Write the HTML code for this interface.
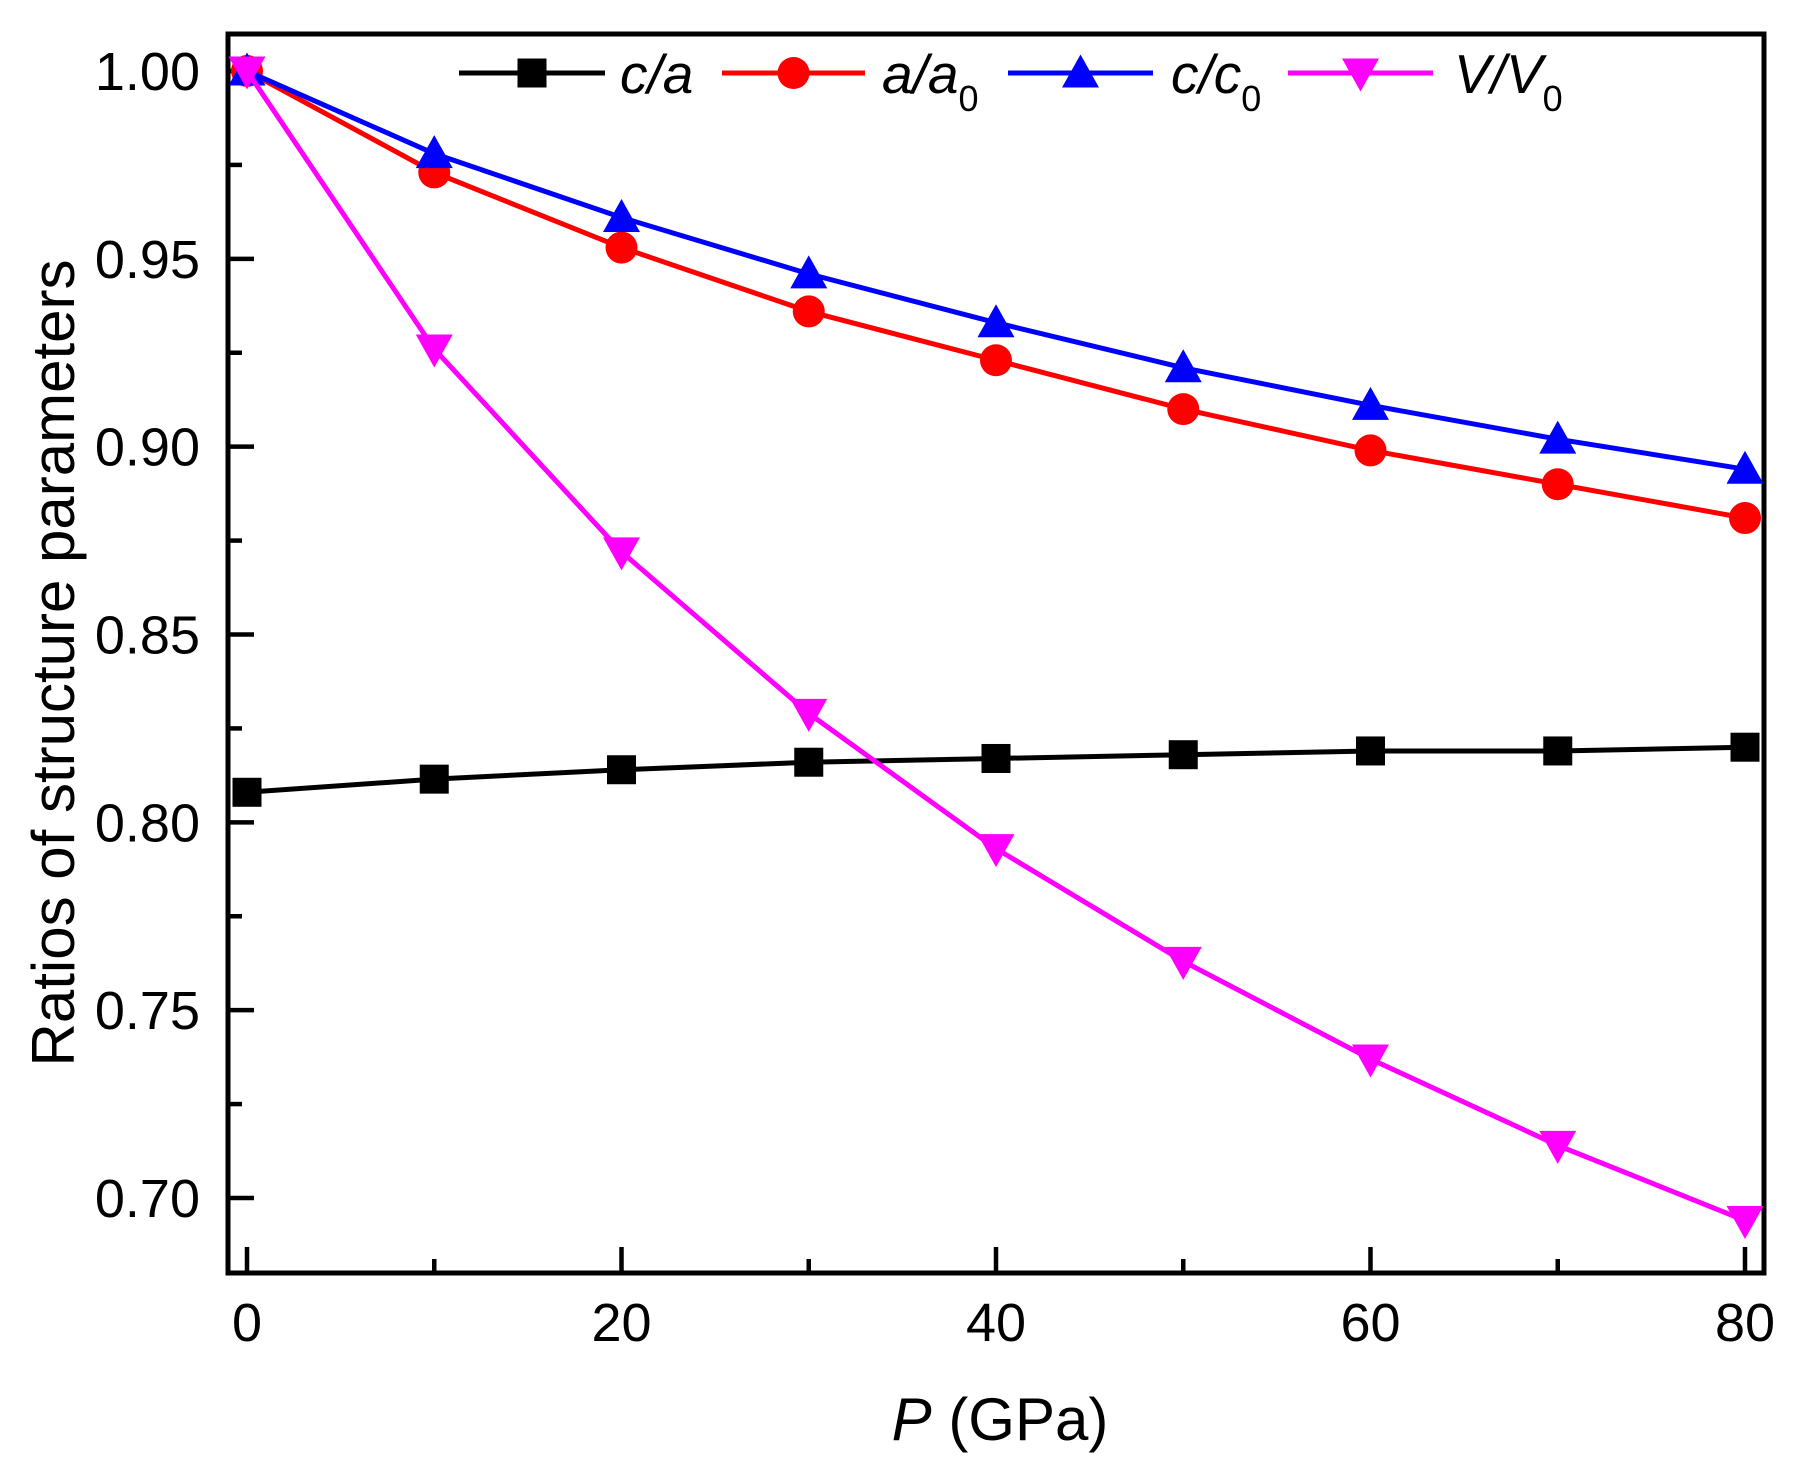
<!DOCTYPE html>
<html><head><meta charset="utf-8"><style>
html,body{margin:0;padding:0;background:#fff;}
svg{display:block;font-family:"Liberation Sans",Arial,sans-serif;}
</style></head><body>
<svg id="chart" width="1794" height="1470" viewBox="0 0 1794 1470">
<g id="plot"></g>
</svg>
<script>
const pressures=[0,10,20,30,40,50,60,70,80];
const caValues=[0.808,0.8115,0.814,0.816,0.817,0.818,0.819,0.819,0.820];
const aa0Values=[1.000,0.973,0.953,0.936,0.923,0.910,0.899,0.890,0.881];
const cc0Values=[1.000,0.978,0.961,0.946,0.933,0.921,0.911,0.902,0.894];
const vv0Values=[1.000,0.926,0.872,0.829,0.793,0.763,0.737,0.714,0.694];
const xTicks=[0,20,40,60,80];
const xMinor=[10,30,50,70];
const yTicks=[0.70,0.75,0.80,0.85,0.90,0.95,1.00];
const yMinor=[0.725,0.775,0.825,0.875,0.925,0.975];

const NS="http://www.w3.org/2000/svg";
const L=228,R=1764,T=34,B=1273;
function xs(v){return 247+(v-0)*(1745-247)/80;}
function ys(v){return 71+(1.0-v)*(1198-71)/0.30;}
const g=document.getElementById('plot');
function el(tag,attrs,parent){const e=document.createElementNS(NS,tag);for(const k in attrs)e.setAttribute(k,attrs[k]);(parent||g).appendChild(e);return e;}

const frame=el('rect',{x:L,y:T,width:R-L,height:B-T,fill:'none',stroke:'#000','stroke-width':5});



xTicks.forEach(v=>{
  const t=el('line',{x1:xs(v),x2:xs(v),y1:B,y2:B-26,stroke:'#000','stroke-width':4.5});
  
  
  const lb=el('text',{x:xs(v),y:1341,'font-size':54,'text-anchor':'middle'});
  lb.textContent=v;
  
  
});
xMinor.forEach(v=>{
  const t=el('line',{x1:xs(v),x2:xs(v),y1:B,y2:B-14,stroke:'#000','stroke-width':4.5});
  
  
});
yTicks.forEach(v=>{
  const t=el('line',{x1:L,x2:L+26,y1:ys(v),y2:ys(v),stroke:'#000','stroke-width':4.5});
  
  
  const lb=el('text',{x:200,y:ys(v)+19,'font-size':54,'text-anchor':'end'});
  lb.textContent=v.toFixed(2);
  
  
});
yMinor.forEach(v=>{
  const t=el('line',{x1:L,x2:L+14,y1:ys(v),y2:ys(v),stroke:'#000','stroke-width':4.5});
  
  
});

const xt=el('text',{x:1000,y:1440,'font-size':60,'text-anchor':'middle'});
xt.innerHTML='<tspan font-style="italic">P</tspan> (GPa)';


const yt=el('text',{x:0,y:0,'font-size':60,'text-anchor':'middle',transform:'translate(74,663) rotate(-90)'});
yt.textContent='Ratios of structure parameters';



function marker(kind,cx,cy,color,parent){
  const s=14.5;
  let m;
  if(kind==='square') m=el('rect',{x:cx-s,y:cy-s,width:2*s,height:2*s,fill:color},parent);
  else if(kind==='circle') m=el('circle',{cx:cx,cy:cy,r:s+1.5,fill:color},parent);
  else if(kind==='up') m=el('polygon',{points:`${cx},${cy-s-4} ${cx+s+4},${cy+s} ${cx-s-4},${cy+s}`,fill:color},parent);
  else m=el('polygon',{points:`${cx},${cy+s+4} ${cx+s+4},${cy-s} ${cx-s-4},${cy-s}`,fill:color},parent);
  return m;
}
const series=[
  {name:'c-over-a',vals:caValues,color:'#000',kind:'square'},
  {name:'a-over-a0',vals:aa0Values,color:'#ff0000',kind:'circle'},
  {name:'c-over-c0',vals:cc0Values,color:'#0000ff',kind:'up'},
  {name:'v-over-v0',vals:vv0Values,color:'#ff00ff',kind:'down'}
];
series.forEach(s=>{
  const grp=el('g',{});
  
  
  const pts=pressures.map((p,i)=>xs(p)+','+ys(s.vals[i])).join(' ');
  const pl=el('polyline',{points:pts,fill:'none',stroke:s.color,'stroke-width':5},grp);
  
  
  pressures.forEach((p,i)=>{
    const m=marker(s.kind,xs(p),ys(s.vals[i]),s.color,grp);
    
    
  });
});

const legend=[
  {x1:459,x2:605,tx:620,color:'#000',kind:'square',label:'<tspan font-style="italic">c/a</tspan>',name:'c-over-a'},
  {x1:722,x2:865,tx:882,color:'#ff0000',kind:'circle',label:'<tspan font-style="italic">a/a</tspan><tspan font-size="36" dy="18">0</tspan>',name:'a-over-a0'},
  {x1:1008,x2:1153,tx:1171,color:'#0000ff',kind:'up',label:'<tspan font-style="italic">c/c</tspan><tspan font-size="36" dy="18">0</tspan>',name:'c-over-c0'},
  {x1:1288,x2:1433,tx:1454,color:'#ff00ff',kind:'down',label:'<tspan font-style="italic">V/V</tspan><tspan font-size="36" dy="18">0</tspan>',name:'v-over-v0'}
];
const lg=el('g',{});


legend.forEach(e=>{
  const eg=el('g',{},lg);
  
  
  el('line',{x1:e.x1,x2:e.x2,y1:73,y2:73,stroke:e.color,'stroke-width':5},eg);
  marker(e.kind,(e.x1+e.x2)/2,73,e.color,eg);
  const t=el('text',{x:e.tx,y:93,'font-size':55},eg);
  t.innerHTML=e.label;
});
</script>
</body></html>
